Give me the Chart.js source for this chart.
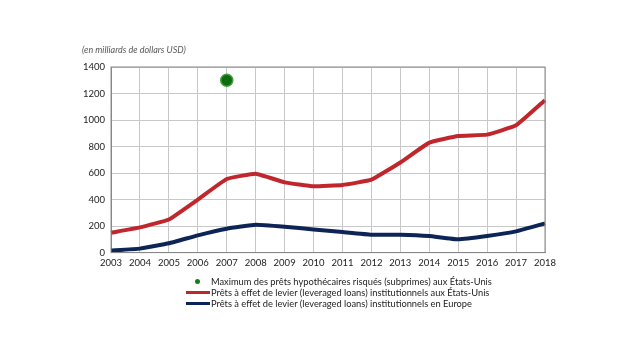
<!DOCTYPE html>
<html>
<head>
<meta charset="utf-8">
<script src="https://cdn.jsdelivr.net/npm/chart.js@4"></script>
<style>
body { margin: 0; background: #fff; font-family: Lato, sans-serif; }
#wrap { position: relative; width: 640px; height: 350px; }
#unit { position: absolute; left: 82px; top: 44px; font-size: 9px; font-style: italic; color: #595959; }
#legend { position: absolute; left: 185px; top: 276px; font-size: 9.3px; color: #222; line-height: 11px; }
#legend div { display: flex; align-items: center; white-space: nowrap; }
.mk { width: 25px; display: inline-flex; justify-content: center; margin-right: 1px; }
</style>
</head>
<body>
<div id="wrap">
<canvas id="mainChart" width="640" height="350"></canvas>
<div id="unit">(en milliards de dollars USD)</div>
<div id="legend">
  <div><span class="mk"><span style="width:5px;height:5px;border-radius:50%;background:#1e7a1e;display:inline-block"></span></span>Maximum des prêts hypothécaires risqués (subprimes) aux États-Unis</div>
  <div><span class="mk"><span style="width:24px;height:3px;background:#c0272d;display:inline-block"></span></span>Prêts à effet de levier (leveraged loans) institutionnels aux États-Unis</div>
  <div><span class="mk"><span style="width:24px;height:3px;background:#0d2456;display:inline-block"></span></span>Prêts à effet de levier (leveraged loans) institutionnels en Europe</div>
</div>
</div>
<script>
let years = ['2003', '2004', '2005', '2006', '2007', '2008', '2009', '2010',
    '2011', '2012', '2013', '2014', '2015', '2016', '2017', '2018']
let usLoans = [150, 190, 250, 400, 555, 595, 530, 500, 510, 550, 680, 830, 880, 890, 960, 1150]
let euLoans = [15, 30, 70, 130, 180, 210, 195, 175, 155, 135, 135, 125, 100, 125, 160, 220]
let subprimePeak = [null, null, null, null, 1300, null, null, null, null, null, null, null, null, null, null, null]

let ctx = document.getElementById('mainChart').getContext('2d');
let mainChart = new Chart(ctx, {
    type: 'line',
    data: {
        labels: years,
        datasets: [{
            label: 'Maximum des prêts hypothécaires risqués (subprimes) aux États-Unis',
            data: subprimePeak,
            showLine: false,
            pointRadius: 6,
            pointBackgroundColor: '#0f6b0f',
            pointBorderColor: '#3fa03f',
            pointBorderWidth: 1.5
        }, {
            label: 'Prêts à effet de levier (leveraged loans) institutionnels aux États-Unis',
            data: usLoans,
            borderColor: '#c0272d',
            borderWidth: 4,
            pointRadius: 0,
            tension: 0.1
        }, {
            label: 'Prêts à effet de levier (leveraged loans) institutionnels en Europe',
            data: euLoans,
            borderColor: '#0d2456',
            borderWidth: 4,
            pointRadius: 0,
            tension: 0.1
        }]
    },
    options: {
        responsive: false,
        animation: false,
        layout: {
            padding: { left: 77, right: 95, top: 67, bottom: 76 }
        },
        plugins: {
            legend: { display: false },
            tooltip: { enabled: false }
        },
        scales: {
            y: {
                min: 0,
                max: 1400,
                ticks: {
                    stepSize: 200,
                    padding: 6,
                    color: '#222',
                    font: { family: 'Lato', size: 9.5 },
                    callback: (v) => String(v)
                },
                grid: { color: '#c8c8c8', drawTicks: false },
                border: { color: '#888' }
            },
            x: {
                offset: false,
                ticks: {
                    color: '#222',
                    maxRotation: 0,
                    autoSkip: false,
                    padding: 5,
                    font: { family: 'Lato', size: 9.5 }
                },
                grid: { color: '#c8c8c8', drawTicks: false },
                border: { color: '#888' }
            }
        }
    },
    plugins: [{
        id: 'frame',
        afterDraw(chart) {
            let a = chart.chartArea
            let c = chart.ctx
            c.save()
            c.strokeStyle = '#888'
            c.lineWidth = 1
            c.strokeRect(a.left, a.top, a.right - a.left, a.bottom - a.top)
            c.restore()
        }
    }]
});
</script>
</body>
</html>
